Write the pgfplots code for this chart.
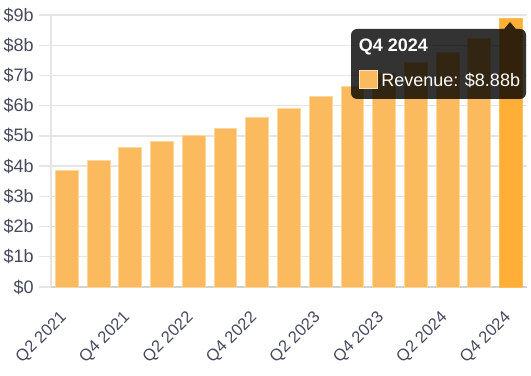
\documentclass[border=0pt]{standalone}
\usepackage{fontspec}
\setmainfont{Liberation Sans}
\usepackage{pgfplots}
\pgfplotsset{compat=1.18}
\definecolor{barfill}{RGB}{251,186,94}
\definecolor{baredge}{RGB}{253,214,160}
\definecolor{hifill}{RGB}{255,174,55}
\definecolor{hiedge}{RGB}{255,190,90}
\definecolor{lbl}{RGB}{70,74,92}
\definecolor{gridc}{RGB}{229,229,229}
\pgfplotstableread{
x y
0 3.85
1 4.20
2 4.61
3 4.82
4 5.01
5 5.25
6 5.60
7 5.90
8 6.30
9 6.65
10 7.05
11 7.42
12 7.76
13 8.21
}\mainbars
\pgfplotstableread{
x y
14 8.88
}\hibar
\begin{document}
\begin{tikzpicture}
\useasboundingbox (-38.25pt,-66pt) rectangle (360pt,215.25pt);
\begin{axis}[
  at={(0,0)}, anchor=south west,
  scale only axis, width=357pt, height=204pt,
  ybar=0pt, bar width=0.72,
  xmin=-0.5, xmax=14.5, ymin=0, ymax=9,
  xtick={0,2,...,14},
  xticklabels={Q2 2021,Q4 2021,Q2 2022,Q4 2022,Q2 2023,Q4 2023,Q2 2024,Q4 2024},
  ytick={0,...,9},
  yticklabels={\$0,\$1b,\$2b,\$3b,\$4b,\$5b,\$6b,\$7b,\$8b,\$9b},
  ymajorgrids, major grid style={gridc, line width=1pt},
  axis x line*=bottom, axis y line*=left,
  x axis line style={draw={rgb,255:red,210;green,210;blue,210}, line width=1pt, -},
  y axis line style={draw=gridc, line width=1pt, -},
  tick align=outside,
  ytick style={draw=gridc, line width=1pt},
  major tick length=9pt,
  xtick style={draw=none},
  every tick label/.append style={text=lbl},
  yticklabel style={font=\fontsize{13.5}{16}\selectfont, anchor=east, inner sep=0pt, xshift=-3.75pt},
  xticklabel style={font=\fontsize{12.4}{15}\selectfont, xshift=-6pt, yshift=-8pt, rotate=45, anchor=north east, inner sep=0pt},
]
\addplot[bar shift=0pt, fill=barfill, draw=baredge, line width=0.75pt] table[x=x,y=y] {\mainbars};
\addplot[bar shift=0pt, fill=hifill, draw=hiedge, line width=0.75pt] table[x=x,y=y] {\hibar};
\end{axis}
\begin{scope}[x=0.75pt,y=-0.75pt,shift={(-38.25pt,215.25pt)}]
  \fill[black,opacity=0.8] [rounded corners=4.5pt] (351,29) rectangle (526,99)
     [sharp corners] (504,29.2) -- (510,22) -- (516,29.2) -- cycle;
  \node[anchor=west, inner sep=0pt, text=white, font=\fontsize{13.5}{16}\selectfont\bfseries] at (358.5,47) {Q4 2024};
  \fill[barfill] (359.5,70.5) rectangle (377.5,88.5);
  \draw[draw={rgb,255:red,255;green,225;blue,180}, line width=1.2pt] (359.5,70.5) rectangle (377.5,88.5);
  \node[anchor=west, inner sep=0pt, text=white, font=\fontsize{13.5}{16}\selectfont] at (381,80) {Revenue: \$8.88b};
\end{scope}
\end{tikzpicture}
\end{document}
